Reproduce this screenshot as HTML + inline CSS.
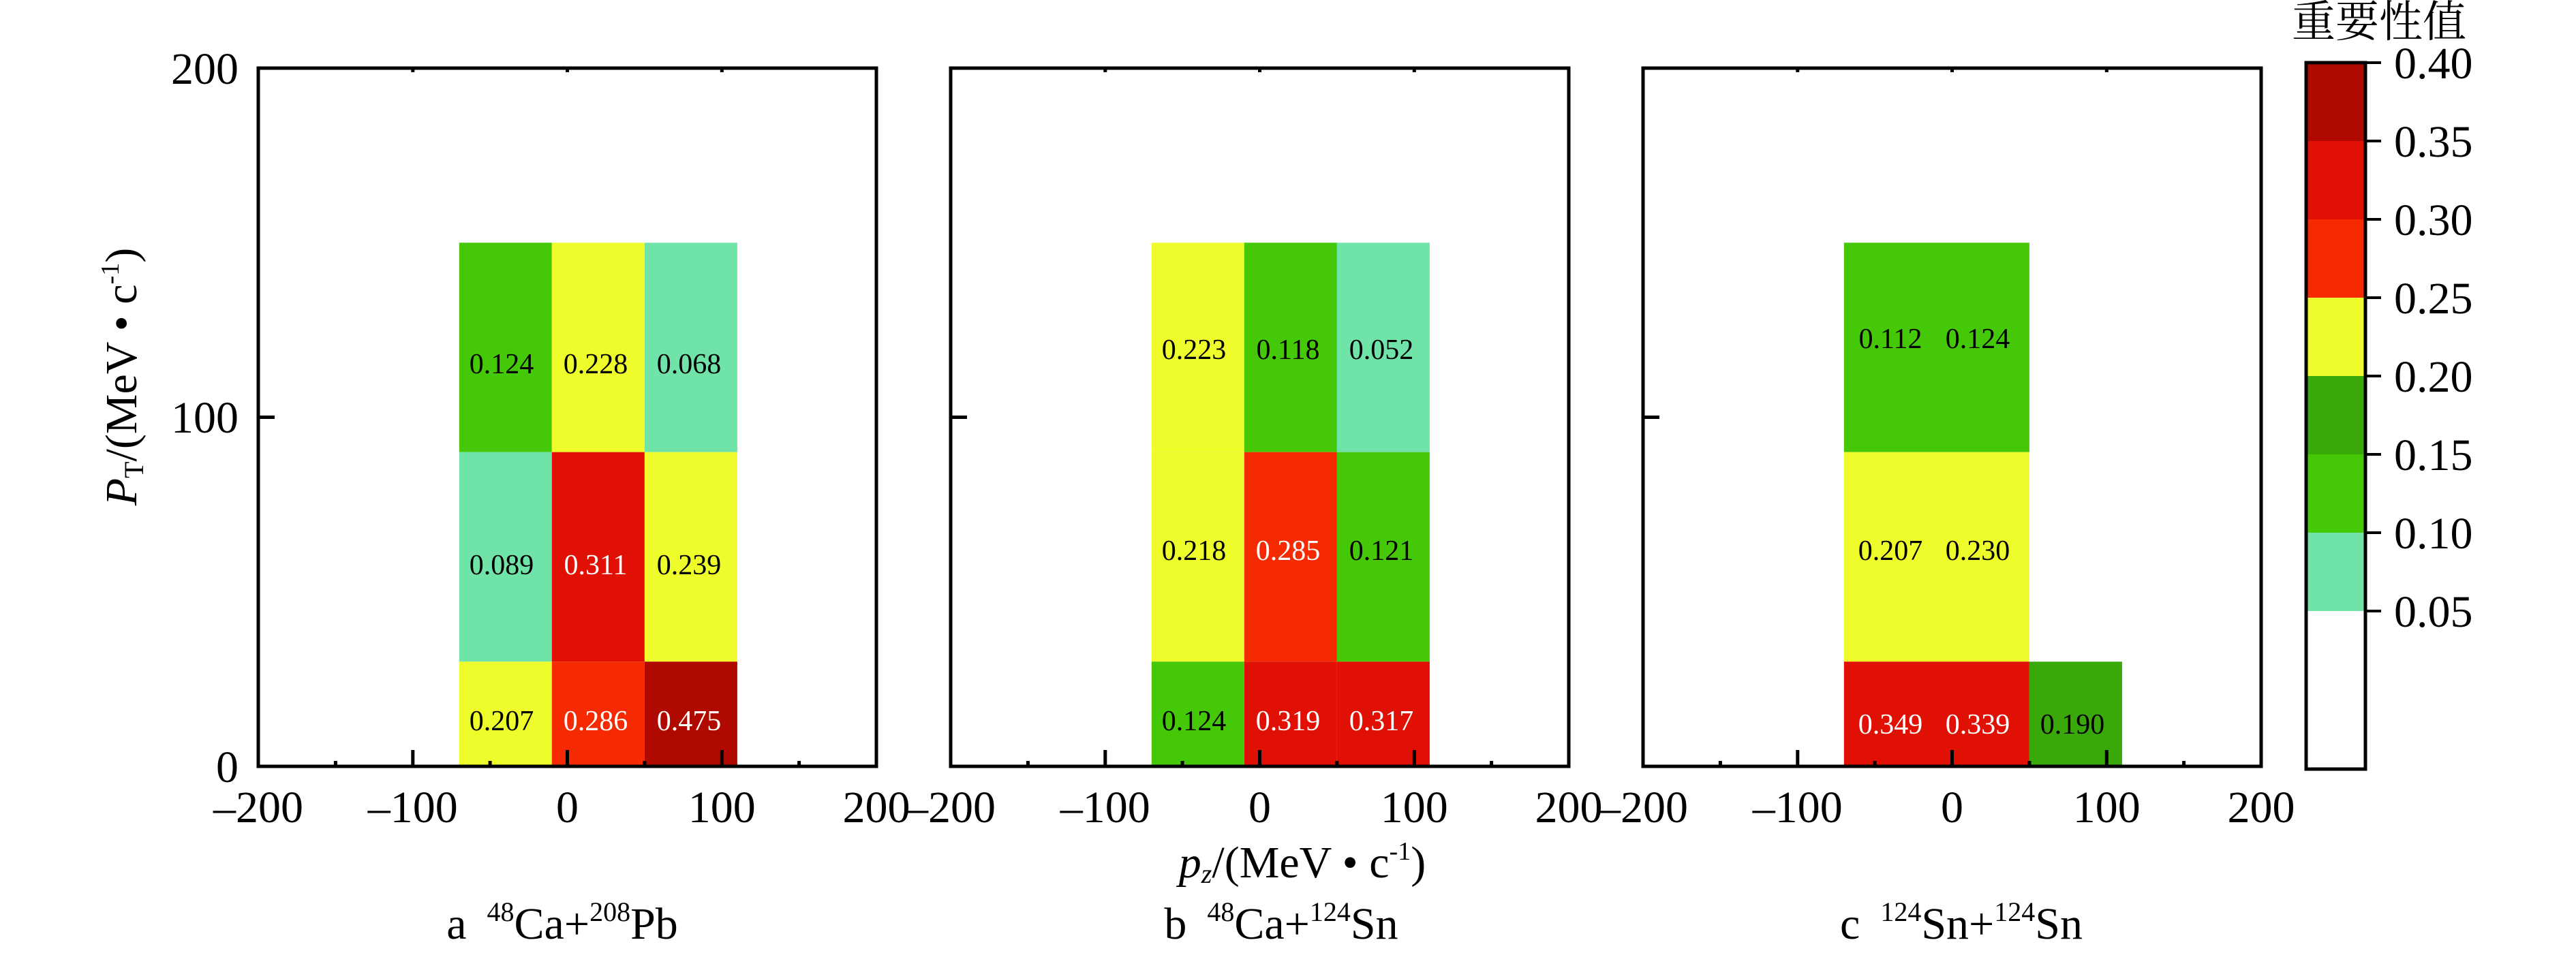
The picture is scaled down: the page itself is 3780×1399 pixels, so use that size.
<!DOCTYPE html>
<html><head><meta charset="utf-8"><style>
html,body{margin:0;padding:0;background:#fff;}
svg{display:block;}
text{font-family:"Liberation Serif","Noto Serif CJK SC",serif;fill:#000;}
</style></head><body>
<svg width="3780" height="1399" viewBox="0 0 3780 1399" xmlns="http://www.w3.org/2000/svg">
<g>
<rect x="673.8" y="356.3" width="136" height="307.4" fill="#44c808"/>
<rect x="809.8" y="356.3" width="136.1" height="307.4" fill="#eefc2c"/>
<rect x="945.9" y="356.3" width="136" height="307.4" fill="#70e4a8"/>
<rect x="673.8" y="663.7" width="136" height="307.6" fill="#70e4a8"/>
<rect x="809.8" y="663.7" width="136.1" height="307.6" fill="#e01005"/>
<rect x="945.9" y="663.7" width="136" height="307.6" fill="#eefc2c"/>
<rect x="673.8" y="971.3" width="136" height="153.7" fill="#eefc2c"/>
<rect x="809.8" y="971.3" width="136.1" height="153.7" fill="#f52a00"/>
<rect x="945.9" y="971.3" width="136" height="153.7" fill="#b00a00"/>
</g>
<g>
<rect x="1689.8" y="356.3" width="136" height="307.4" fill="#eefc2c"/>
<rect x="1825.8" y="356.3" width="136.1" height="307.4" fill="#44c808"/>
<rect x="1961.9" y="356.3" width="136" height="307.4" fill="#70e4a8"/>
<rect x="1689.8" y="663.7" width="136" height="307.6" fill="#eefc2c"/>
<rect x="1825.8" y="663.7" width="136.1" height="307.6" fill="#f52a00"/>
<rect x="1961.9" y="663.7" width="136" height="307.6" fill="#44c808"/>
<rect x="1689.8" y="971.3" width="136" height="153.7" fill="#44c808"/>
<rect x="1825.8" y="971.3" width="136.1" height="153.7" fill="#e01005"/>
<rect x="1961.9" y="971.3" width="136" height="153.7" fill="#e01005"/>
</g>
<g>
<rect x="2705.8" y="356.3" width="272.1" height="307.4" fill="#44c808"/>
<rect x="2705.8" y="663.7" width="272.1" height="307.6" fill="#eefc2c"/>
<rect x="2705.8" y="971.3" width="272.1" height="153.7" fill="#e01005"/>
<rect x="2977.9" y="971.3" width="136" height="153.7" fill="#3aa80a"/>
</g>
<g font-size="42" text-anchor="middle">
<text x="736" y="548">0.124</text><text x="874" y="548">0.228</text><text x="1011" y="548">0.068</text>
<text x="736" y="843">0.089</text><text x="874" y="843" style="fill:#fff">0.311</text><text x="1011" y="843">0.239</text>
<text x="736" y="1072">0.207</text><text x="874" y="1072" style="fill:#fff">0.286</text><text x="1011" y="1072" style="fill:#fff">0.475</text>

<text x="1752" y="527">0.223</text><text x="1890" y="527">0.118</text><text x="2027" y="527">0.052</text>
<text x="1752" y="822">0.218</text><text x="1890" y="822" style="fill:#fff">0.285</text><text x="2027" y="822">0.121</text>
<text x="1752" y="1072">0.124</text><text x="1890" y="1072" style="fill:#fff">0.319</text><text x="2027" y="1072" style="fill:#fff">0.317</text>

<text x="2774" y="511">0.112</text><text x="2902" y="511">0.124</text>
<text x="2774" y="822">0.207</text><text x="2902" y="822">0.230</text>
<text x="2774" y="1077" style="fill:#fff">0.349</text><text x="2902" y="1077" style="fill:#fff">0.339</text><text x="3041" y="1077">0.190</text>
</g>
<g fill="none" stroke="#000" stroke-width="5">
<rect x="379" y="100" width="907" height="1025"/>
<rect x="1395" y="100" width="907" height="1025"/>
<rect x="2411" y="100" width="907" height="1025"/>
</g>
<g stroke="#000" stroke-width="5">
<path d="M605.8 1125v-24M832.5 1125v-24M1059.3 1125v-24M492.4 1125v-8M719.1 1125v-8M945.9 1125v-8M1172.6 1125v-8
M605.8 100v6M832.5 100v6M1059.3 100v6M379 612.5h24M379 100h20"/>
<path d="M1621.8 1125v-24M1848.5 1125v-24M2075.3 1125v-24M1508.4 1125v-8M1735.1 1125v-8M1961.9 1125v-8M2188.6 1125v-8
M1621.8 100v6M1848.5 100v6M2075.3 100v6M1395 612.5h24M1395 100h20"/>
<path d="M2637.8 1125v-24M2864.5 1125v-24M3091.3 1125v-24M2524.4 1125v-8M2751.1 1125v-8M2977.9 1125v-8M3204.6 1125v-8
M2637.8 100v6M2864.5 100v6M3091.3 100v6M2411 612.5h24M2411 100h20"/>
</g>
<g font-size="66" text-anchor="middle">
<text x="379" y="1207">–200</text><text x="605.8" y="1207">–100</text><text x="832.5" y="1207">0</text><text x="1059.3" y="1207">100</text><text x="1286" y="1207">200</text>
<text x="1395" y="1207">–200</text><text x="1621.8" y="1207">–100</text><text x="1848.5" y="1207">0</text><text x="2075.3" y="1207">100</text><text x="2302" y="1207">200</text>
<text x="2411" y="1207">–200</text><text x="2637.8" y="1207">–100</text><text x="2864.5" y="1207">0</text><text x="3091.3" y="1207">100</text><text x="3318" y="1207">200</text>
</g>
<g font-size="66" text-anchor="end">
<text x="350" y="123">200</text><text x="350" y="635">100</text><text x="350" y="1148">0</text>
</g>
<text transform="translate(200,553) rotate(-90)" font-size="66" text-anchor="middle"><tspan font-style="italic">P</tspan><tspan font-size="40" dy="10">T</tspan><tspan dy="-10">/(MeV • c</tspan><tspan font-size="38" dy="-26">-1</tspan><tspan dy="26">)</tspan></text>
<text x="1911" y="1288" font-size="66" text-anchor="middle"><tspan font-style="italic">p</tspan><tspan font-size="40" font-style="italic" dy="8">z</tspan><tspan dy="-8">/(MeV • c</tspan><tspan font-size="38" dy="-26">-1</tspan><tspan dy="26">)</tspan></text>
<g font-size="66" text-anchor="middle">
<text x="825" y="1378">a<tspan font-size="40" dx="30" dy="-26">48</tspan><tspan dy="26">Ca+</tspan><tspan font-size="40" dy="-26">208</tspan><tspan dy="26">Pb</tspan></text>
<text x="1880" y="1378">b<tspan font-size="40" dx="30" dy="-26">48</tspan><tspan dy="26">Ca+</tspan><tspan font-size="40" dy="-26">124</tspan><tspan dy="26">Sn</tspan></text>
<text x="2878" y="1378">c<tspan font-size="40" dx="30" dy="-26">124</tspan><tspan dy="26">Sn+</tspan><tspan font-size="40" dy="-26">124</tspan><tspan dy="26">Sn</tspan></text>
</g>
<g>
<rect x="3384" y="92" width="87" height="115" fill="#b00a00"/>
<rect x="3384" y="207" width="87" height="115" fill="#e01005"/>
<rect x="3384" y="322" width="87" height="115" fill="#f52a00"/>
<rect x="3384" y="437" width="87" height="115" fill="#eefc2c"/>
<rect x="3384" y="552" width="87" height="115" fill="#3aa80a"/>
<rect x="3384" y="667" width="87" height="115" fill="#44c808"/>
<rect x="3384" y="782" width="87" height="115" fill="#70e4a8"/>
<rect x="3384" y="92" width="87" height="1037" fill="none" stroke="#000" stroke-width="5"/>
<path stroke="#000" stroke-width="4" d="M3471 92h23M3471 207h23M3471 322h23M3471 437h23M3471 552h23M3471 667h23M3471 782h23M3471 897h23"/>
</g>
<g font-size="66">
<text x="3513" y="115">0.40</text><text x="3513" y="230">0.35</text><text x="3513" y="345">0.30</text><text x="3513" y="460">0.25</text>
<text x="3513" y="575">0.20</text><text x="3513" y="690">0.15</text><text x="3513" y="805">0.10</text><text x="3513" y="920">0.05</text>
</g>
<text x="3491" y="54" font-size="64" text-anchor="middle" style="font-family:'Noto Serif CJK SC','Noto Sans CJK SC',serif">重要性值</text>
</svg>
</body></html>
